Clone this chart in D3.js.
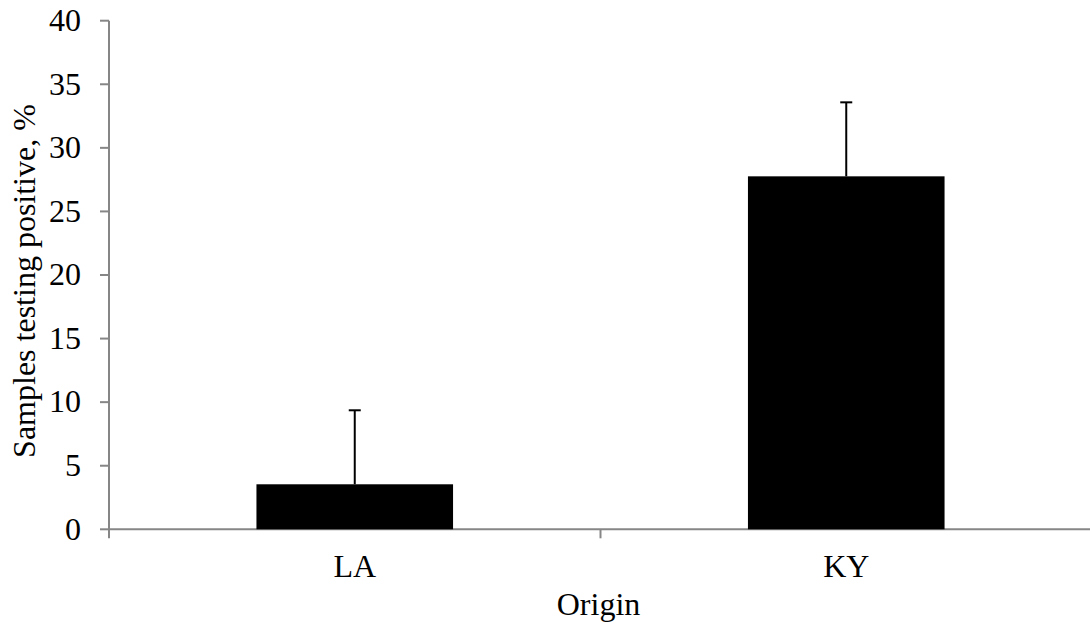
<!DOCTYPE html>
<html>
<head>
<meta charset="utf-8">
<script src="https://d3js.org/d3.v7.min.js"></script>
<style>
  body { margin: 0; background: #fff; }
  svg text { font-family: "Liberation Serif", "Times New Roman", serif; fill: #000; }
</style>
</head>
<body>
<svg id="chart" width="1090" height="632"></svg>
<script>
// data
var origins = ["LA", "KY"];
var positive = [3.54, 27.76];
var errUpper = [9.36, 33.58];
var yTicks = [0, 5, 10, 15, 20, 25, 30, 35, 40];

var svg = d3.select("#chart");
var axisColor = "#868686";
var fontSize = "32px";
var plotLeft = 109, plotRight = 1092, plotTop = 20.7, plotBottom = 529.3;

var x = d3.scaleBand().domain(origins).range([plotLeft, plotRight])
  .paddingInner(0.6).paddingOuter(0.3);
var y = d3.scaleLinear().domain([0, 40]).range([plotBottom, plotTop]);

// y axis
var yAxis = svg.append("g");
yAxis.append("line")
  .attr("x1", plotLeft).attr("x2", plotLeft).attr("y1", plotTop).attr("y2", plotBottom)
  .attr("stroke", axisColor).attr("stroke-width", 2);
yAxis.selectAll("line.tick").data(yTicks).enter().append("line")
  .attr("class", "tick")
  .attr("x1", plotLeft - 9).attr("x2", plotLeft)
  .attr("y1", function(d) { return y(d); }).attr("y2", function(d) { return y(d); })
  .attr("stroke", axisColor).attr("stroke-width", 2);
yAxis.selectAll("text").data(yTicks).enter().append("text")
  .attr("x", 81).attr("y", function(d) { return y(d); })
  .attr("dy", "0.32em")
  .attr("text-anchor", "end")
  .style("font-size", fontSize)
  .text(function(d) { return d; });

// x axis, ticks at category boundaries
var step = x.step();
var bounds = [plotLeft, plotLeft + step, plotLeft + 2 * step];
var xAxis = svg.append("g");
xAxis.append("line")
  .attr("x1", plotLeft).attr("x2", plotRight).attr("y1", plotBottom).attr("y2", plotBottom)
  .attr("stroke", axisColor).attr("stroke-width", 2);
xAxis.selectAll("line.tick").data(bounds).enter().append("line")
  .attr("class", "tick")
  .attr("x1", function(d) { return d; }).attr("x2", function(d) { return d; })
  .attr("y1", plotBottom).attr("y2", plotBottom + 9)
  .attr("stroke", axisColor).attr("stroke-width", 2);
xAxis.selectAll("text").data(origins).enter().append("text")
  .attr("x", function(d) { return x(d) + x.bandwidth() / 2; })
  .attr("y", 577)
  .attr("text-anchor", "middle")
  .style("font-size", fontSize)
  .text(function(d) { return d; });

// bars
svg.selectAll("rect.bar").data(origins).enter().append("rect")
  .attr("class", "bar")
  .attr("x", function(d) { return x(d); })
  .attr("width", x.bandwidth())
  .attr("y", function(d, i) { return y(positive[i]); })
  .attr("height", function(d, i) { return plotBottom - y(positive[i]); })
  .attr("fill", "#000");

// error bars (upper only)
var err = svg.append("g");
origins.forEach(function(d, i) {
  var cx = x(d) + x.bandwidth() / 2;
  err.append("line")
    .attr("x1", cx).attr("x2", cx)
    .attr("y1", y(positive[i])).attr("y2", y(errUpper[i]))
    .attr("stroke", "#000").attr("stroke-width", 2);
  err.append("line")
    .attr("x1", cx - 6).attr("x2", cx + 6)
    .attr("y1", y(errUpper[i])).attr("y2", y(errUpper[i]))
    .attr("stroke", "#000").attr("stroke-width", 2);
});

// axis titles
svg.append("text")
  .attr("x", (plotLeft + plotRight) / 2 - 2).attr("y", 615)
  .attr("text-anchor", "middle")
  .style("font-size", fontSize)
  .text("Origin");
svg.append("text")
  .attr("transform", "translate(35,281)rotate(-90)")
  .attr("text-anchor", "middle")
  .style("font-size", fontSize)
  .text("Samples testing positive, %");
</script>
</body>
</html>
